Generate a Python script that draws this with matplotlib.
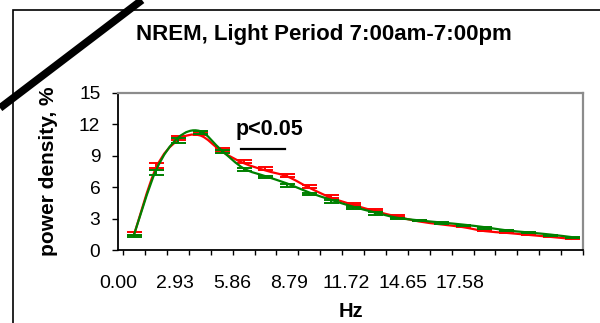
import matplotlib
matplotlib.use("Agg")
import matplotlib.pyplot as plt
import numpy as np
from matplotlib.path import Path
from matplotlib.patches import PathPatch, Rectangle
from matplotlib.lines import Line2D

# =========================
# DATA
# =========================

RED_MEAN = [1.5, 7.83, 10.48, 10.94, 9.41, 8.3, 7.6, 7.02, 5.95, 5.0, 4.33,
            3.73, 3.21, 2.75, 2.47, 2.21, 1.83, 1.66, 1.47, 1.28, 1.08]
RED_ERR = [0.2, 0.45, 0.4, 0.3, 0.3, 0.3, 0.3, 0.25, 0.25, 0.25, 0.2,
           0.2, 0.15, 0.1, 0.1, 0.1, 0.1, 0.08, 0.08, 0.08, 0.06]

GREEN_MEAN = [1.5, 7.6, 10.7, 11.35, 9.5, 7.8, 7.05, 6.35, 5.5, 4.8, 4.15,
              3.6, 3.1, 2.85, 2.65, 2.45, 2.2, 1.9, 1.7, 1.5, 1.25]
GREEN_ERR = [0.2, 0.43, 0.5, 0.3, 0.26, 0.22, 0.19, 0.29, 0.23, 0.27, 0.22,
             0.24, 0.12, 0.1, 0.15, 0.15, 0.15, 0.1, 0.1, 0.1, 0.1]

X_LABELS = ["0.00", "2.93", "5.86", "8.79", "11.72", "14.65", "17.58"]

SIG_START, SIG_END, SIG_Y = 4.9, 6.9, 9.65

# =========================
# STYLE / LAYOUT
# =========================

RED = "#ff0000"
GREEN = "#008000"
LABEL_START, LABEL_STEP = -0.72, 2.6   # where the x labels sit (category units)

plt.rcParams["font.family"] = ["Liberation Sans", "DejaVu Sans"]


def smooth_path(x, y):
    # Excel-like smoothed line: Catmull-Rom turned into cubic Bezier segments
    p = np.column_stack([x, y]).astype(float)
    ext = np.vstack([p[0], p, p[-1]])
    verts = [p[0]]
    codes = [Path.MOVETO]
    for i in range(len(p) - 1):
        p0, p1, p2, p3 = ext[i], ext[i + 1], ext[i + 2], ext[i + 3]
        verts += [p1 + (p2 - p0) / 6, p2 - (p3 - p1) / 6, p2]
        codes += [Path.CURVE4] * 3
    return Path(verts, codes)


fig = plt.figure(figsize=(6.0, 3.23), dpi=100)
ax = fig.add_axes([0.1972, 0.2251, 0.7745, 0.4879])

x = np.arange(len(RED_MEAN))

# smoothed lines
ax.add_patch(PathPatch(smooth_path(x, RED_MEAN), fill=False, edgecolor=RED, lw=1.6, zorder=3))
ax.add_patch(PathPatch(smooth_path(x, GREEN_MEAN), fill=False, edgecolor=GREEN, lw=1.6, zorder=4))

# one-sided error bars
ax.errorbar(x, RED_MEAN, yerr=[np.zeros(len(x)), RED_ERR], fmt="none",
            ecolor=RED, elinewidth=1.4, capsize=5.4, capthick=1.4, zorder=3)
ax.errorbar(x, GREEN_MEAN, yerr=[GREEN_ERR, np.zeros(len(x))], fmt="none",
            ecolor=GREEN, elinewidth=1.4, capsize=5.4, capthick=1.4, zorder=4)

# significance bar
ax.plot([SIG_START, SIG_END], [SIG_Y, SIG_Y], color="black", lw=1.6)
ax.text((SIG_START + SIG_END) / 2 + 0.3, SIG_Y + 1.8, "p<0.05", ha="center", va="center",
        fontsize=15.5, fontweight="bold")

# axes
ax.set_xlim(-0.5, len(x) - 0.5)
ax.set_ylim(0, 15)
ax.set_yticks(np.arange(0, 16, 3))
ax.tick_params(axis="y", direction="out", length=4, width=1, pad=9, labelsize=13.8)

ax.set_xticks(np.arange(-0.5, len(x), 1.0), minor=True)
ax.set_xticks(LABEL_START + LABEL_STEP * np.arange(len(X_LABELS)))
ax.set_xticklabels(X_LABELS)
ax.tick_params(axis="x", which="major", length=0, pad=18, labelsize=14)
ax.tick_params(axis="x", which="minor", direction="out", length=3.5, width=1)

for side in ["left", "bottom"]:
    ax.spines[side].set_color("black")
    ax.spines[side].set_linewidth(1.3)
for side in ["top", "right"]:
    ax.spines[side].set_color("#8c8c8c")
    ax.spines[side].set_linewidth(1.6)

ax.set_xlabel("Hz", fontsize=14.5, fontweight="bold", labelpad=7)
ax.set_ylabel("power density, %", fontsize=15, fontweight="bold", labelpad=15)

fig.text(0.54, 0.893, "NREM, Light Period 7:00am-7:00pm", ha="center", va="center",
         fontsize=16, fontweight="bold")

# outer frame and the diagonal stroke
fig.patches.append(Rectangle((13 / 600, -0.1), 1.1, 1.1 - 10 / 323, transform=fig.transFigure,
                             fill=False, edgecolor="black", lw=1.2))
fig.lines.append(Line2D([0.0, 142 / 600], [1 - 108 / 323, 1.0], transform=fig.transFigure,
                        color="black", lw=5.5, solid_capstyle="butt"))

fig.savefig("out.png", dpi=100)
